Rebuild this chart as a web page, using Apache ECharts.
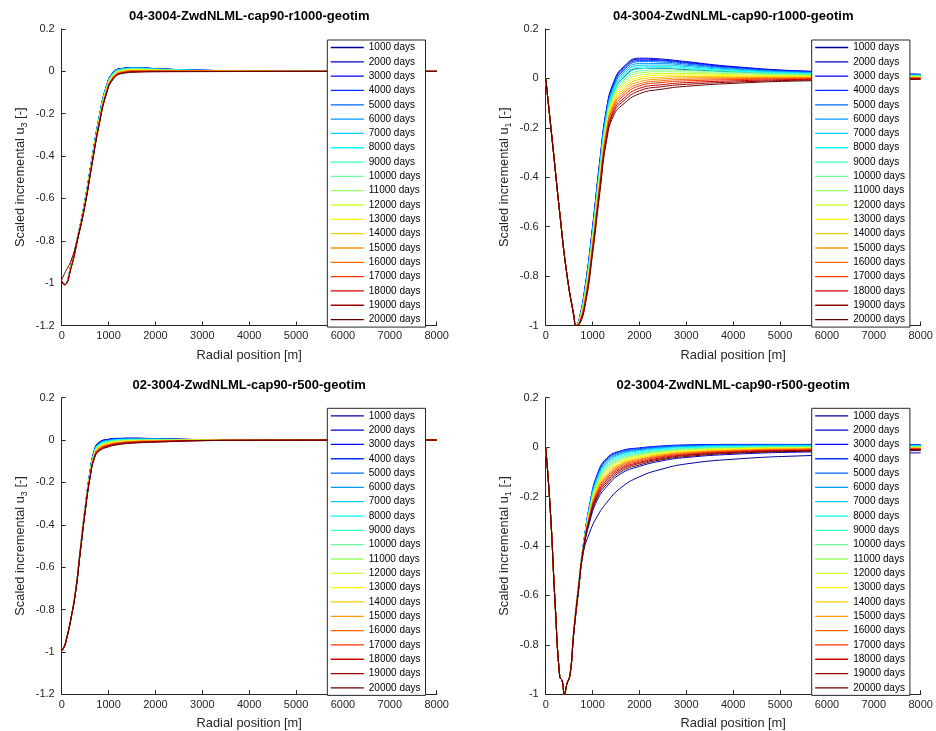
<!DOCTYPE html>
<html><head><meta charset="utf-8">
<script src="https://cdn.jsdelivr.net/npm/echarts@6/dist/echarts.min.js"></script>
<style>html,body{margin:0;padding:0;background:#fff}#c{width:936px;height:731px}</style>
</head><body><div id="c"></div>
<script>
const days = [1000,2000,3000,4000,5000,6000,7000,8000,9000,10000,11000,12000,13000,14000,15000,16000,17000,18000,19000,20000];
const titles = ['04-3004-ZwdNLML-cap90-r1000-geotim','04-3004-ZwdNLML-cap90-r1000-geotim','02-3004-ZwdNLML-cap90-r500-geotim','02-3004-ZwdNLML-cap90-r500-geotim'];
const yNames = ['u3','u1','u3','u1'];
const yMins = [-1.2,-1,-1.2,-1];

// Top-left: scaled incremental u3, r1000
const xU3r1000 = [0,60,200,350,500,650,800,950,1100,1300,1600,2000,3000,5000,8000];
const u3r1000 = [
[-0.99,-1.005,-0.912,-0.772,-0.605,-0.405,-0.215,-0.072,-0.004,0.014,0.018,0.013,0.005,0.001,0],
[-0.99,-1.005,-0.912,-0.772,-0.606,-0.406,-0.216,-0.073,-0.005,0.014,0.018,0.013,0.005,0.001,0],
[-0.99,-1.005,-0.913,-0.773,-0.606,-0.406,-0.216,-0.074,-0.005,0.013,0.017,0.012,0.005,0.001,0],
[-0.99,-1.005,-0.913,-0.773,-0.607,-0.407,-0.217,-0.074,-0.006,0.013,0.017,0.012,0.005,0.001,0],
[-0.99,-1.005,-0.913,-0.773,-0.607,-0.407,-0.218,-0.075,-0.007,0.012,0.016,0.012,0.005,0.001,0],
[-0.99,-1.005,-0.914,-0.773,-0.608,-0.408,-0.219,-0.076,-0.007,0.012,0.016,0.012,0.004,0.001,0],
[-0.99,-1.005,-0.914,-0.774,-0.608,-0.409,-0.220,-0.077,-0.008,0.011,0.015,0.011,0.004,0.001,0],
[-0.99,-1.005,-0.915,-0.774,-0.610,-0.410,-0.222,-0.079,-0.010,0.010,0.014,0.010,0.004,0.001,0],
[-0.99,-1.006,-0.916,-0.775,-0.611,-0.412,-0.224,-0.081,-0.012,0.008,0.013,0.009,0.004,0.001,0],
[-0.99,-1.006,-0.917,-0.776,-0.613,-0.414,-0.226,-0.083,-0.014,0.007,0.011,0.008,0.003,0.001,0],
[-0.99,-1.006,-0.919,-0.777,-0.614,-0.416,-0.229,-0.086,-0.016,0.005,0.010,0.007,0.003,0.001,0],
[-0.99,-1.006,-0.920,-0.778,-0.616,-0.418,-0.231,-0.089,-0.019,0.003,0.008,0.006,0.002,0.001,0],
[-0.99,-1.007,-0.921,-0.779,-0.618,-0.420,-0.234,-0.091,-0.021,0.002,0.007,0.005,0.002,0,0],
[-0.99,-1.007,-0.922,-0.780,-0.620,-0.422,-0.236,-0.094,-0.023,0,0.005,0.004,0.002,0,0],
[-0.99,-1.007,-0.924,-0.780,-0.621,-0.425,-0.239,-0.097,-0.025,-0.002,0.004,0.003,0.001,0,0],
[-0.99,-1.007,-0.925,-0.781,-0.623,-0.427,-0.242,-0.099,-0.028,-0.003,0.002,0.002,0.001,0,0],
[-0.99,-1.007,-0.926,-0.782,-0.625,-0.429,-0.244,-0.102,-0.030,-0.005,0.001,0.001,0,0,0],
[-0.99,-1.008,-0.927,-0.783,-0.627,-0.431,-0.247,-0.105,-0.032,-0.007,-0.001,0,0,0,0],
[-0.99,-1.008,-0.929,-0.784,-0.628,-0.433,-0.249,-0.107,-0.035,-0.008,-0.002,-0.001,-0.001,0,0],
[-0.985,-0.955,-0.893,-0.780,-0.630,-0.435,-0.252,-0.110,-0.037,-0.010,-0.004,-0.002,-0.001,0,0]
];

// Top-right: scaled incremental u1, r1000
const xU1r1000 = [0,150,300,450,600,650,720,850,1000,1150,1300,1450,1650,2000,2500,3000,4000,5500,8000];
const u1r1000 = [
[0,-0.27,-0.545,-0.79,-0.96,-1,-0.978,-0.855,-0.635,-0.380,-0.160,-0.057,0.002,0.040,0.041,0.036,0.027,0.018,0.010],
[0,-0.27,-0.545,-0.79,-0.96,-1,-0.970,-0.830,-0.600,-0.340,-0.120,-0.015,0.045,0.082,0.078,0.068,0.048,0.030,0.017],
[0,-0.27,-0.545,-0.79,-0.96,-1,-0.971,-0.832,-0.603,-0.344,-0.124,-0.019,0.041,0.078,0.074,0.065,0.046,0.029,0.016],
[0,-0.27,-0.545,-0.79,-0.96,-1,-0.972,-0.835,-0.607,-0.348,-0.128,-0.023,0.036,0.073,0.071,0.062,0.044,0.028,0.016],
[0,-0.27,-0.545,-0.79,-0.96,-1,-0.973,-0.838,-0.611,-0.353,-0.133,-0.029,0.030,0.068,0.066,0.058,0.041,0.026,0.015],
[0,-0.27,-0.545,-0.79,-0.96,-1,-0.974,-0.842,-0.617,-0.360,-0.140,-0.035,0.023,0.060,0.060,0.053,0.038,0.024,0.014],
[0,-0.27,-0.545,-0.79,-0.96,-1,-0.975,-0.846,-0.622,-0.366,-0.146,-0.042,0.015,0.053,0.054,0.048,0.034,0.022,0.013],
[0,-0.27,-0.545,-0.79,-0.96,-1,-0.976,-0.850,-0.628,-0.373,-0.153,-0.049,0.008,0.046,0.048,0.043,0.031,0.020,0.012],
[0,-0.27,-0.545,-0.79,-0.96,-1,-0.978,-0.854,-0.633,-0.379,-0.159,-0.056,0.000,0.039,0.042,0.038,0.028,0.018,0.011],
[0,-0.27,-0.545,-0.79,-0.96,-1,-0.979,-0.859,-0.640,-0.387,-0.167,-0.064,-0.009,0.030,0.034,0.032,0.024,0.016,0.009],
[0,-0.27,-0.545,-0.79,-0.96,-1,-0.981,-0.864,-0.646,-0.395,-0.175,-0.072,-0.018,0.022,0.027,0.026,0.019,0.013,0.008],
[0,-0.27,-0.545,-0.79,-0.96,-1,-0.982,-0.868,-0.653,-0.402,-0.182,-0.080,-0.027,0.013,0.020,0.020,0.015,0.011,0.007],
[0,-0.27,-0.545,-0.79,-0.96,-1,-0.984,-0.873,-0.659,-0.410,-0.190,-0.088,-0.036,0.004,0.013,0.014,0.011,0.008,0.006],
[0,-0.27,-0.545,-0.79,-0.96,-1,-0.985,-0.878,-0.666,-0.418,-0.198,-0.096,-0.045,-0.004,0.005,0.008,0.007,0.006,0.004],
[0,-0.27,-0.545,-0.79,-0.96,-1,-0.987,-0.883,-0.673,-0.426,-0.206,-0.104,-0.054,-0.013,-0.002,0.002,0.003,0.004,0.003],
[0,-0.27,-0.545,-0.79,-0.96,-1,-0.988,-0.888,-0.679,-0.434,-0.214,-0.112,-0.063,-0.022,-0.009,-0.004,-0.001,0.001,0.002],
[0,-0.27,-0.545,-0.79,-0.96,-1,-0.990,-0.892,-0.686,-0.441,-0.221,-0.120,-0.072,-0.030,-0.016,-0.010,-0.005,-0.001,0.001],
[0,-0.27,-0.545,-0.79,-0.96,-1,-0.991,-0.898,-0.694,-0.451,-0.231,-0.130,-0.083,-0.040,-0.025,-0.017,-0.010,-0.004,-0.001],
[0,-0.27,-0.545,-0.79,-0.96,-1,-0.993,-0.904,-0.701,-0.460,-0.240,-0.139,-0.093,-0.050,-0.033,-0.024,-0.015,-0.007,-0.002],
[0,-0.27,-0.545,-0.79,-0.96,-1,-0.995,-0.910,-0.710,-0.470,-0.250,-0.150,-0.105,-0.062,-0.043,-0.032,-0.020,-0.010,-0.004]
];

// Bottom-left: scaled incremental u3, r500
const xU3r500 = [0,50,100,200,300,400,500,600,700,800,1000,1200,1500,2000,3000,4000,8000];
const u3r500 = [
[-0.995,-0.978,-0.942,-0.84,-0.705,-0.510,-0.320,-0.155,-0.045,-0.010,0.004,0.008,0.009,0.007,0.002,0,0],
[-0.995,-0.978,-0.942,-0.84,-0.705,-0.510,-0.321,-0.156,-0.046,-0.011,0.003,0.007,0.008,0.006,0.002,0,0],
[-0.995,-0.978,-0.942,-0.84,-0.705,-0.511,-0.321,-0.157,-0.047,-0.013,0.002,0.006,0.008,0.006,0.002,0,0],
[-0.995,-0.978,-0.942,-0.84,-0.706,-0.511,-0.322,-0.158,-0.049,-0.014,0.001,0.005,0.007,0.005,0.002,0,0],
[-0.995,-0.978,-0.942,-0.84,-0.706,-0.512,-0.322,-0.159,-0.050,-0.015,0.000,0.004,0.006,0.005,0.001,0,0],
[-0.995,-0.978,-0.942,-0.84,-0.706,-0.512,-0.323,-0.160,-0.051,-0.017,-0.002,0.003,0.005,0.004,0.001,0,0],
[-0.995,-0.978,-0.942,-0.84,-0.706,-0.513,-0.324,-0.161,-0.053,-0.018,-0.003,0.002,0.004,0.004,0.001,0,0],
[-0.995,-0.978,-0.942,-0.84,-0.707,-0.513,-0.325,-0.163,-0.055,-0.021,-0.005,0.001,0.003,0.003,0.001,0,0],
[-0.995,-0.978,-0.942,-0.84,-0.707,-0.514,-0.326,-0.164,-0.057,-0.023,-0.007,-0.001,0.002,0.002,0.001,0,0],
[-0.995,-0.978,-0.942,-0.84,-0.708,-0.515,-0.327,-0.166,-0.059,-0.025,-0.009,-0.003,0.000,0.001,0,0,0],
[-0.995,-0.978,-0.942,-0.84,-0.708,-0.515,-0.328,-0.168,-0.062,-0.028,-0.011,-0.005,-0.001,0,0,-0.001,0],
[-0.995,-0.978,-0.942,-0.84,-0.708,-0.516,-0.330,-0.169,-0.064,-0.030,-0.013,-0.006,-0.003,-0.001,0,-0.001,0],
[-0.995,-0.978,-0.942,-0.84,-0.709,-0.517,-0.331,-0.171,-0.067,-0.033,-0.015,-0.008,-0.004,-0.002,-0.001,-0.001,0],
[-0.995,-0.978,-0.942,-0.84,-0.709,-0.518,-0.332,-0.173,-0.069,-0.035,-0.018,-0.010,-0.005,-0.003,-0.001,-0.001,0],
[-0.995,-0.978,-0.942,-0.84,-0.710,-0.519,-0.333,-0.175,-0.071,-0.038,-0.020,-0.012,-0.007,-0.004,-0.001,-0.001,0],
[-0.995,-0.978,-0.942,-0.84,-0.710,-0.519,-0.334,-0.177,-0.074,-0.040,-0.022,-0.014,-0.008,-0.005,-0.002,-0.001,0],
[-0.995,-0.978,-0.942,-0.84,-0.710,-0.520,-0.336,-0.178,-0.076,-0.043,-0.024,-0.015,-0.010,-0.006,-0.002,-0.001,0],
[-0.995,-0.978,-0.942,-0.84,-0.711,-0.521,-0.337,-0.181,-0.079,-0.046,-0.027,-0.018,-0.011,-0.007,-0.002,-0.001,0],
[-0.995,-0.978,-0.942,-0.84,-0.711,-0.522,-0.338,-0.183,-0.082,-0.049,-0.029,-0.020,-0.013,-0.009,-0.003,-0.001,0],
[-0.995,-0.978,-0.942,-0.84,-0.712,-0.523,-0.340,-0.185,-0.085,-0.052,-0.032,-0.022,-0.015,-0.010,-0.003,-0.001,0]
];

// Bottom-right: scaled incremental u1, r500
const xU1r500 = [0,100,200,300,350,400,450,520,600,700,800,950,1100,1300,1600,2000,2500,3000,4000,5500,8000];
const u1r500 = [
[0,-0.26,-0.63,-0.93,-0.945,-1,-0.96,-0.92,-0.752,-0.585,-0.430,-0.340,-0.280,-0.225,-0.165,-0.120,-0.088,-0.068,-0.049,-0.035,-0.023],
[0,-0.26,-0.63,-0.93,-0.945,-1,-0.96,-0.92,-0.750,-0.580,-0.425,-0.295,-0.215,-0.160,-0.108,-0.078,-0.055,-0.042,-0.029,-0.020,-0.014],
[0,-0.26,-0.63,-0.93,-0.945,-1,-0.96,-0.92,-0.740,-0.560,-0.400,-0.220,-0.110,-0.045,-0.015,-0.003,0.005,0.009,0.011,0.011,0.010],
[0,-0.26,-0.63,-0.93,-0.945,-1,-0.96,-0.92,-0.740,-0.561,-0.401,-0.223,-0.114,-0.049,-0.018,-0.006,0.003,0.007,0.010,0.010,0.009],
[0,-0.26,-0.63,-0.93,-0.945,-1,-0.96,-0.92,-0.741,-0.561,-0.402,-0.225,-0.118,-0.053,-0.022,-0.009,0.001,0.005,0.008,0.009,0.008],
[0,-0.26,-0.63,-0.93,-0.945,-1,-0.96,-0.92,-0.741,-0.562,-0.403,-0.228,-0.122,-0.059,-0.026,-0.012,-0.002,0.003,0.006,0.007,0.007],
[0,-0.26,-0.63,-0.93,-0.945,-1,-0.96,-0.92,-0.742,-0.563,-0.404,-0.232,-0.127,-0.064,-0.030,-0.015,-0.005,0.001,0.005,0.006,0.006],
[0,-0.26,-0.63,-0.93,-0.945,-1,-0.96,-0.92,-0.742,-0.564,-0.405,-0.236,-0.133,-0.070,-0.035,-0.020,-0.008,-0.002,0.002,0.004,0.005],
[0,-0.26,-0.63,-0.93,-0.945,-1,-0.96,-0.92,-0.743,-0.565,-0.406,-0.240,-0.139,-0.077,-0.041,-0.024,-0.012,-0.005,0.000,0.003,0.003],
[0,-0.26,-0.63,-0.93,-0.945,-1,-0.96,-0.92,-0.744,-0.565,-0.407,-0.243,-0.144,-0.083,-0.046,-0.028,-0.015,-0.008,-0.002,0.001,0.002],
[0,-0.26,-0.63,-0.93,-0.945,-1,-0.96,-0.92,-0.744,-0.566,-0.408,-0.247,-0.150,-0.089,-0.051,-0.032,-0.018,-0.011,-0.004,-0.001,0.001],
[0,-0.26,-0.63,-0.93,-0.945,-1,-0.96,-0.92,-0.745,-0.567,-0.410,-0.251,-0.156,-0.095,-0.056,-0.036,-0.021,-0.014,-0.006,-0.002,-0.001],
[0,-0.26,-0.63,-0.93,-0.945,-1,-0.96,-0.92,-0.745,-0.568,-0.411,-0.255,-0.161,-0.102,-0.061,-0.040,-0.025,-0.016,-0.008,-0.004,-0.002],
[0,-0.26,-0.63,-0.93,-0.945,-1,-0.96,-0.92,-0.746,-0.569,-0.412,-0.259,-0.167,-0.108,-0.066,-0.044,-0.028,-0.019,-0.011,-0.006,-0.003],
[0,-0.26,-0.63,-0.93,-0.945,-1,-0.96,-0.92,-0.747,-0.570,-0.413,-0.263,-0.173,-0.114,-0.071,-0.049,-0.031,-0.022,-0.013,-0.007,-0.005],
[0,-0.26,-0.63,-0.93,-0.945,-1,-0.96,-0.92,-0.747,-0.571,-0.414,-0.267,-0.178,-0.121,-0.076,-0.053,-0.035,-0.025,-0.015,-0.009,-0.006],
[0,-0.26,-0.63,-0.93,-0.945,-1,-0.96,-0.92,-0.748,-0.572,-0.416,-0.271,-0.184,-0.127,-0.081,-0.057,-0.038,-0.028,-0.017,-0.011,-0.007],
[0,-0.26,-0.63,-0.93,-0.945,-1,-0.96,-0.92,-0.749,-0.573,-0.417,-0.275,-0.191,-0.134,-0.087,-0.062,-0.042,-0.031,-0.020,-0.013,-0.009],
[0,-0.26,-0.63,-0.93,-0.945,-1,-0.96,-0.92,-0.749,-0.574,-0.418,-0.280,-0.197,-0.142,-0.093,-0.066,-0.046,-0.034,-0.022,-0.015,-0.010],
[0,-0.26,-0.63,-0.93,-0.945,-1,-0.96,-0.92,-0.750,-0.575,-0.420,-0.285,-0.205,-0.150,-0.100,-0.072,-0.050,-0.038,-0.025,-0.017,-0.012]
];

const plotX = [xU3r1000, xU1r1000, xU3r500, xU1r500];
const plotY = [u3r1000, u1r1000, u3r500, u1r500];

// jet(20) colormap
const jet = ['#000099','#0000cc','#0000ff','#0033ff','#0066ff','#0099ff','#00ccff','#00ffff','#33ffcc','#66ff99',
             '#99ff66','#ccff33','#ffff00','#ffcc00','#ff9900','#ff6600','#ff3300','#cc0000','#990000','#660000'];

const FONT = 'Liberation Sans, Arial, Helvetica, sans-serif';
const AX = '#262626';
const gridPos = [
  {left: 61.7, top: 29, width: 375, height: 296.5},
  {left: 545.7, top: 29, width: 375, height: 296.5},
  {left: 61.7, top: 397.7, width: 375, height: 296.5},
  {left: 545.7, top: 397.7, width: 375, height: 296.5}
];
const legendPos = [
  {left: 327.3, top: 40}, {left: 811.7, top: 40}, {left: 327.3, top: 408.3}, {left: 811.7, top: 408.3}
];
const names = days.map(d => d + ' days');

const option = {
  animation: false,
  backgroundColor: '#fff',
  textStyle: {fontFamily: FONT},
  title: gridPos.map((g, i) => ({
    text: titles[i], left: g.left + g.width / 2, top: i < 2 ? 9.5 : 378.5, textAlign: 'center', padding: 0,
    textStyle: {fontSize: 13, fontWeight: 'bold', color: '#000', fontFamily: FONT}
  })),
  grid: gridPos.map(g => Object.assign({containLabel: false, outerBoundsMode: 'none'}, g)),
  legend: legendPos.map(p => ({
    data: names, orient: 'vertical', left: p.left, top: p.top, icon: 'rect',
    itemWidth: 33, itemHeight: 1.3, itemGap: 2.32, padding: [1.5, 5, 1.5, 3.5],
    backgroundColor: '#fff', borderColor: AX, borderWidth: 1, selectedMode: false,
    textStyle: {fontSize: 10, color: '#000', lineHeight: 12, fontFamily: FONT}
  })),
  xAxis: gridPos.map((g, i) => ({
    type: 'value', gridIndex: i, min: 0, max: 8000, interval: 1000,
    name: 'Radial position [m]', nameLocation: 'middle', nameGap: 23,
    nameTextStyle: {fontSize: 12.8, color: AX, fontFamily: FONT},
    axisLine: {show: true, onZero: false, lineStyle: {color: AX, width: 1}},
    axisTick: {show: true, inside: true, length: 4, lineStyle: {color: AX}},
    axisLabel: {fontSize: 11, color: AX, margin: 5, fontFamily: FONT, formatter: v => String(v)},
    splitLine: {show: false}
  })),
  yAxis: gridPos.map((g, i) => ({
    type: 'value', gridIndex: i, min: yMins[i], max: 0.2, interval: 0.2,
    name: '{a|Scaled incremental u}{b|' + yNames[i].slice(1) + '}{a| [-]}',
    nameLocation: 'middle', nameGap: 33,
    nameTextStyle: {fontSize: 12.8, color: AX, fontFamily: FONT,
      rich: {a: {fontSize: 12.8, color: AX, fontFamily: FONT},
             b: {fontSize: 9, color: AX, fontFamily: FONT, padding: [8, 0, 0, 0]}}},
    axisLine: {show: true, onZero: false, lineStyle: {color: AX, width: 1}},
    axisTick: {show: true, inside: true, length: 4, lineStyle: {color: AX}},
    axisLabel: {fontSize: 11, color: AX, margin: 7, fontFamily: FONT},
    splitLine: {show: false}
  })),
  series: []
};

for (let p = 0; p < 4; p++) {
  const xs = plotX[p];
  plotY[p].forEach((ys, i) => {
    option.series.push({
      type: 'line', name: names[i], xAxisIndex: p, yAxisIndex: p,
      data: xs.map((x, j) => [x, ys[j]]),
      symbol: 'none', smooth: 0.5, clip: true,
      lineStyle: {width: 1, color: jet[i]}, itemStyle: {color: jet[i]},
      emphasis: {disabled: true}
    });
  });
}

const chart = echarts.init(document.getElementById('c'), null, {renderer: 'canvas'});
chart.setOption(option);
</script>
</body></html>
